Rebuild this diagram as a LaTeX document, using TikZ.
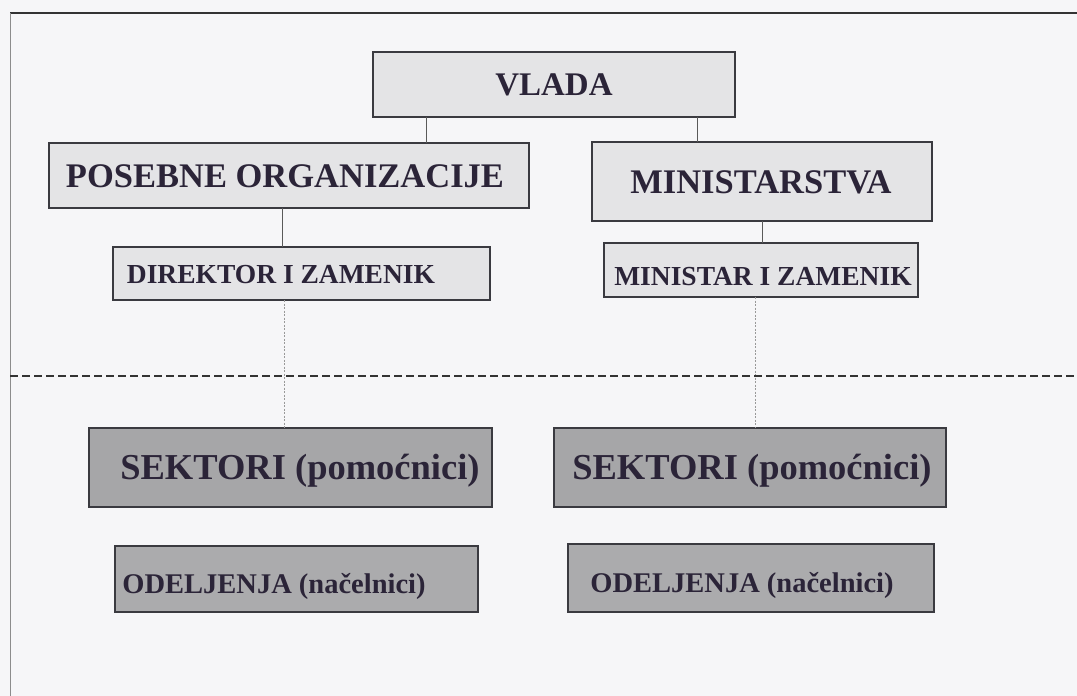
\documentclass[tikz,border=0pt]{standalone}
\usepackage{fontspec}
\setmainfont{Liberation Serif}
\definecolor{bgc}{HTML}{F6F6F8}
\definecolor{ink}{HTML}{2B2438}
\definecolor{lightbox}{HTML}{E4E4E6}
\definecolor{darkbox}{HTML}{A6A6A8}
\definecolor{midbox}{HTML}{ABABAD}
\definecolor{edge}{HTML}{3A3A40}
\tikzset{
  box/.style={draw=edge, line width=1.6pt, inner sep=0pt, outer sep=0pt, anchor=north west},
  lbox/.style={box, fill=lightbox},
  dbox/.style={box, fill=darkbox},
  mbox/.style={box, fill=midbox},
  txt/.style={inner sep=0pt, anchor=base, text=ink, font=\bfseries},
  link/.style={draw=black!65, line width=0.8pt},
  dlink/.style={draw=black!40, line width=0.8pt, dash pattern=on 2pt off 1.5pt},
  sep/.style={draw=black!80, line width=1.6pt, dash pattern=on 8pt off 4pt}
}
\begin{document}
\begin{tikzpicture}[x=1pt,y=-1pt]
\useasboundingbox (0,0) rectangle (1077,696);
\fill[bgc] (0,0) rectangle (1077,696);
% frame
\draw[black!80, line width=1.6pt] (10,13) -- (1077,13);
\draw[black!45, line width=0.8pt] (10,13) -- (10,696);
% boxes
\node[lbox, minimum width=362pt, minimum height=65pt] (vlada) at (373,52) {};
\node[lbox, minimum width=480pt, minimum height=65pt] (pos) at (49,143) {};
\node[lbox, minimum width=340pt, minimum height=79pt] (min) at (592,142) {};
\node[lbox, minimum width=377pt, minimum height=53pt] (dir) at (113,247) {};
\node[lbox, minimum width=314pt, minimum height=54pt] (mzam) at (604,243) {};
\node[dbox, minimum width=403pt, minimum height=79pt] (sekl) at (89,428) {};
\node[dbox, minimum width=392pt, minimum height=79pt] (sekr) at (554,428) {};
\node[mbox, minimum width=363pt, minimum height=66pt] (odl) at (115,546) {};
\node[mbox, minimum width=366pt, minimum height=68pt] (odr) at (568,544) {};
% texts
\node[txt, font=\bfseries\fontsize{33}{33}\selectfont] (tvlada) at (554,95.4) {VLADA};
\node[txt, font=\bfseries\fontsize{34.5}{34.5}\selectfont] (tpos) at (285,187) {POSEBNE ORGANIZACIJE};
\node[txt, font=\bfseries\fontsize{34.5}{34.5}\selectfont] (tmin) at (761,193) {MINISTARSTVA};
\node[txt, font=\bfseries\fontsize{27.5}{27.5}\selectfont] (tdir) at (281,283) {DIREKTOR I ZAMENIK};
\node[txt, font=\bfseries\fontsize{27.5}{27.5}\selectfont] (tmzam) at (763,285) {MINISTAR I ZAMENIK};
\node[txt, font=\bfseries\fontsize{36.5}{36.5}\selectfont] (tsekl) at (300,479) {SEKTORI (pomoćnici)};
\node[txt, font=\bfseries\fontsize{36.5}{36.5}\selectfont] (tsekr) at (752,479) {SEKTORI (pomoćnici)};
\node[txt, font=\bfseries\fontsize{28.5}{28.5}\selectfont] (todl) at (274,593) {ODELJENJA (načelnici)};
\node[txt, font=\bfseries\fontsize{28.5}{28.5}\selectfont] (todr) at (742,592) {ODELJENJA (načelnici)};
% connectors
\draw[link] (vlada.south -| 426,0) -- (pos.north -| 426,0);
\draw[link] (vlada.south -| 697,0) -- (min.north -| 697,0);
\draw[link] (pos.south -| 282,0) -- (dir.north -| 282,0);
\draw[link] (min.south -| 762,0) -- (mzam.north -| 762,0);
\draw[dlink] (dir.south -| 284,0) -- (sekl.north -| 284,0);
\draw[dlink] (mzam.south -| 755,0) -- (sekr.north -| 755,0);
% dashed separator
\coordinate (sepL) at (10,376);
\coordinate (sepR) at (1077,376);
\draw[sep] (sepL) -- (sepR);
\end{tikzpicture}
\end{document}
